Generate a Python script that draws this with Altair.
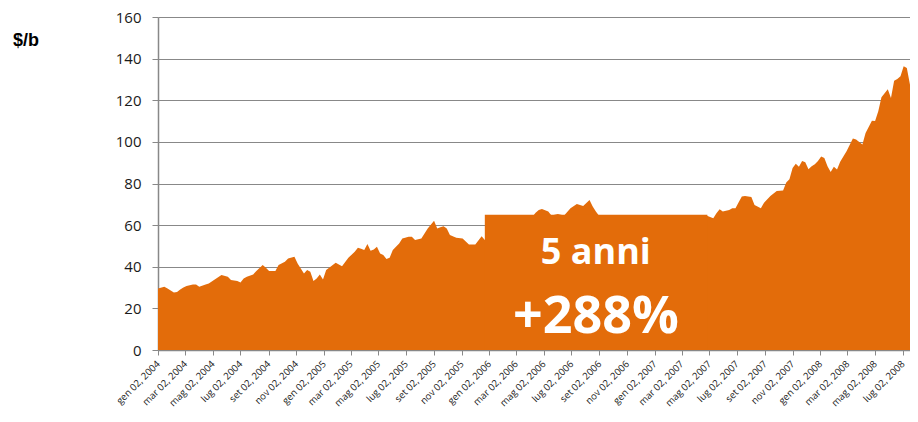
import altair as alt
import pandas as pd
import numpy as np

# --- data (weekly oil price, $/b), week index counted from 2004-01-02 ---
start_date = "2004-01-02"
weeks = [0, 2, 3, 5, 6, 7, 8, 9, 11, 12, 13, 15, 16, 18, 20, 22, 23, 25, 26, 27, 28, 30, 31,
         33, 34, 35, 37, 38, 40, 41, 43, 44, 46, 47, 48, 49, 50, 51, 52, 53, 56, 58, 60, 62,
         63, 64, 65, 66, 67, 68, 69, 70, 71, 72, 73, 74, 76, 77, 79, 80, 81, 83, 85, 87, 88,
         89, 90, 91, 92, 94, 96, 98, 100, 102, 103,
         104, 106, 108, 110, 112, 114, 116, 118,
         119, 120, 121, 123, 124, 126, 128, 130, 132, 134, 136, 137, 138, 139,
         141, 143, 145, 147, 149, 151, 153, 155, 157, 159, 161, 163, 165, 167, 169, 171, 173,
         175, 176, 177, 178, 180, 181, 182, 183, 184, 185, 187, 188, 190, 191, 193, 195, 197,
         198, 199, 200, 201, 202, 203, 204, 205, 206, 207, 208, 209, 210, 211, 212, 213, 214,
         215, 216, 217, 219, 220, 222, 223, 225, 226, 227, 228, 230, 231, 232, 233, 234, 235,
         236, 237]
prices = [29.6, 30.4, 29.6, 27.6, 27.9, 29.1, 30.0, 30.7, 31.5, 31.5, 30.4, 31.5, 32.0, 34.0,
          36.0, 35.2, 33.6, 33.2, 32.4, 34.4, 35.2, 36.3, 38.0,
          40.8, 39.5, 38.0, 38.0, 40.8, 42.4, 44.0, 44.8, 41.6, 36.8, 38.4, 37.6, 33.2, 34.4,
          36.3, 33.9, 38.4, 41.9, 40.3, 44.3, 47.2,
          49.1, 48.7, 48.0, 50.9, 47.7, 48.3, 49.6, 46.4, 45.6, 43.7, 44.3, 48.0, 51.2, 53.6,
          54.4, 54.4, 52.8, 53.6, 58.4, 62.1, 58.4,
          59.0, 59.5, 58.4, 55.2, 53.9, 53.6, 50.7, 50.7, 54.7, 52.8,
          57.0, 61.0, 63.0, 60.0, 58.0, 60.0, 62.0, 64.0,
          66.0, 67.3, 67.7, 66.5, 64.6, 65.4, 64.6, 68.1, 70.2, 69.2, 72.1, 68.9, 66.5, 64.5,
          62.0, 60.0, 57.0, 55.0, 56.0, 54.0, 56.0, 57.0, 55.0, 52.0, 50.0, 54.0, 57.0, 56.0,
          60.0, 62.0, 64.5,
          63.3, 65.7, 67.6, 66.5, 67.3, 68.1, 68.1, 71.0, 73.7, 74.0, 73.5, 69.7, 68.1, 70.8,
          74.0, 76.4, 76.6,
          80.5, 82.0, 87.5, 89.5, 88.0, 90.8, 90.2, 86.8, 88.3, 89.2, 90.8, 93.0, 92.3, 88.3,
          85.5, 88.0, 86.7,
          90.5, 93.0, 95.5, 101.6, 101.1, 98.7, 104.3, 110.2, 110.0, 114.7, 121.4, 125.3,
          121.1, 129.4, 130.2, 131.5, 136.3,
          135.5, 127.5]

tick_dates = ["2004-01-02", "2004-03-02", "2004-05-02", "2004-07-02", "2004-09-02", "2004-11-02",
              "2005-01-02", "2005-03-02", "2005-05-02", "2005-07-02", "2005-09-02", "2005-11-02",
              "2006-01-02", "2006-03-02", "2006-05-02", "2006-07-02", "2006-09-02", "2006-11-02",
              "2007-01-02", "2007-03-02", "2007-05-02", "2007-07-02", "2007-09-02", "2007-11-02",
              "2008-01-02", "2008-03-02", "2008-05-02", "2008-07-02"]
month_names = ["gen", "feb", "mar", "apr", "mag", "giu", "lug", "ago", "set", "ott", "nov", "dic"]
y_ticks = [0, 20, 40, 60, 80, 100, 120, 140, 160]

# annotation box
box_start = "2005-12-23"
box_end = "2007-04-28"
box_top = 65
ann_date = "2006-08-25"
ann_labels = ["5 anni", "+288%"]
ann_y = [41.3, 8.0]
ann_size = [36, 52]
unit_label = "$/b"

ORANGE = "#E36C0A"
GRID = "#888888"

dates = (pd.Timestamp(start_date) + pd.to_timedelta(np.array(weeks) * 7, unit="D")).strftime("%Y-%m-%d")
df = pd.DataFrame({"date": dates, "price": prices})
last_date = df["date"].iloc[-1]

def dt(s):
    y, m, d = [int(v) for v in s.split("-")]
    return alt.DateTime(year=y, month=m, date=d, utc=True)

label_expr = ("[" + ",".join("'%s'" % m for m in month_names) + "][utcmonth(datum.value)]"
              " + ' ' + utcFormat(datum.value, '%d') + ', ' + utcyear(datum.value)")

x_scale = alt.Scale(type="utc", domain=[dt(start_date), dt(last_date)])
y_scale = alt.Scale(domain=[0, 160], nice=False)

x_axis = alt.Axis(values=[dt(s) for s in tick_dates], tickCount=len(tick_dates) + 2,
                  labelExpr=label_expr, labelAngle=-45,
                  labelAlign="right", labelBaseline="middle", labelFontSize=9.6,
                  labelFont="Open Sans", labelColor="#1a1a1a", labelPadding=7,
                  tickSize=5, tickColor=GRID, domainColor=GRID, domainWidth=1.5,
                  grid=False, title=None, labelOverlap=False, labelBound=False,
                  labelFlush=False)
y_axis = alt.Axis(values=y_ticks, tickCount=len(y_ticks), labelFontSize=15, labelFont="Open Sans",
                  labelColor="#1a1a1a", tickSize=6, tickColor=GRID, labelPadding=11,
                  domainColor=GRID, domainWidth=1.5, grid=True, gridColor=GRID,
                  gridWidth=1.2, title=None)

area = alt.Chart(df).mark_area(color=ORANGE, opacity=1, interpolate="linear").encode(
    x=alt.X("date:T", scale=x_scale, axis=x_axis),
    y=alt.Y("price:Q", scale=y_scale, axis=y_axis),
)

box_df = pd.DataFrame({"x1": [box_start], "x2": [box_end], "y1": [0], "y2": [box_top]})
box = alt.Chart(box_df).mark_rect(color=ORANGE, opacity=1).encode(
    x="x1:T", x2="x2:T", y="y1:Q", y2="y2:Q"
)

ann_df = pd.DataFrame({"date": [ann_date] * 2, "y": ann_y, "label": ann_labels, "size": ann_size})
texts = alt.Chart(ann_df).mark_text(color="white", font="Open Sans", fontWeight="bold",
                                    align="center", baseline="alphabetic").encode(
    x="date:T", y="y:Q", text="label:N",
    size=alt.Size("size:Q", scale=None, legend=None),
)

unit_df = pd.DataFrame({"label": [unit_label]})
unit = alt.Chart(unit_df).mark_text(font="Liberation Sans", fontWeight="bold", fontSize=18,
                                    color="#000000", align="center", baseline="middle").encode(
    x=alt.value(-132), y=alt.value(24), text="label:N"
)

chart = alt.layer(area, box, texts, unit).properties(
    width=752, height=333,
    autosize=alt.AutoSizeParams(type="none"),
    padding={"left": 150, "top": 9, "right": 0, "bottom": 61},
).configure_view(stroke=None).configure_axis(labelOverlap=False)

chart.save("out.html", embed_options={"renderer": "svg", "actions": False})
